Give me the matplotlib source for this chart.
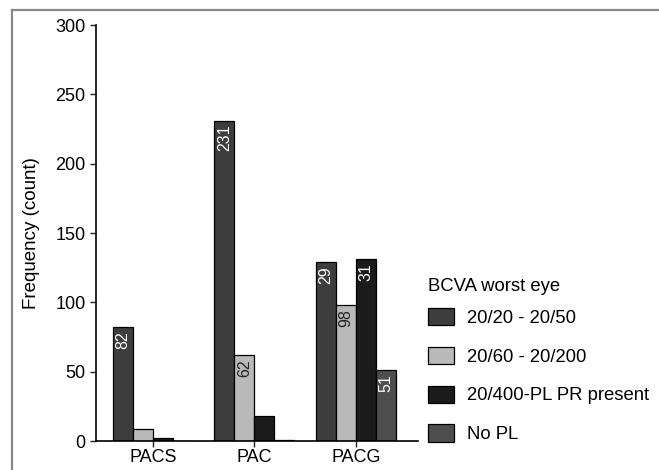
import numpy as np
import matplotlib
matplotlib.use("Agg")
import matplotlib.pyplot as plt
from matplotlib.patches import Patch
from matplotlib.lines import Line2D
from matplotlib.transforms import ScaledTranslation

plt.rcParams['font.family'] = ['Liberation Sans', 'DejaVu Sans']

groups = ['PACS', 'PAC', 'PACG']
series = ['20/20 - 20/50', '20/60 - 20/200', '20/400-PL PR present', 'No PL']
colors = ['#3d3d3d', '#b9b9b9', '#1b1b1b', '#4d4d4d']
text_colors = ['white', '#222222', 'white', 'white']
counts = [
    [82, 231, 129],
    [9, 62, 98],
    [2, 18, 131],
    [0, 1, 51],
]
# labels as printed on the bars
bar_text = [
    ['82', '231', '29'],
    ['', '62', '98'],
    ['', '', '31'],
    ['', '', '51'],
]
label_shift_px = [-16, 0, -9]

fig = plt.figure(figsize=(6.59, 4.70), dpi=100)
ax = fig.add_axes([0.1457, 0.0617, 0.634 - 0.1457, 0.9468 - 0.0617])

x = np.arange(len(groups))
w = 0.197
for i in range(len(series)):
    xs = x + (i - 1.5) * w
    bars = ax.bar(xs, counts[i], width=w, color=colors[i],
                  edgecolor='black', linewidth=0.9, label=series[i])
    for b, t in zip(bars, bar_text[i]):
        if t:
            ax.annotate(t, (b.get_x() + b.get_width() / 2, b.get_height()),
                        xytext=(0, -3), textcoords='offset points',
                        rotation=90, ha='center', va='top',
                        color=text_colors[i], fontsize=11.5)

ax.set_ylim(0, 300)
ax.set_xlim(-0.56, 2.61)
ax.set_yticks([0, 50, 100, 150, 200, 250, 300])
ax.set_xticks(x)
ax.set_xticklabels(groups)
for lab, dx in zip(ax.get_xticklabels(), label_shift_px):
    lab.set_transform(lab.get_transform() + ScaledTranslation(dx / 100, 0, fig.dpi_scale_trans))
ax.tick_params(axis='both', labelsize=13, length=4, width=1, color='#222222')
ax.tick_params(axis='x', pad=2)
ax.spines['top'].set_visible(False)
ax.spines['right'].set_visible(False)
ax.spines['left'].set_linewidth(1.2)
ax.spines['bottom'].set_linewidth(1.2)
ax.set_ylabel('Frequency (count)', fontsize=13.5, labelpad=11)

handles = [Patch(facecolor=c, edgecolor='black', linewidth=0.9) for c in colors]
leg = ax.legend(handles, series, title='BCVA worst eye', loc='upper left',
                bbox_to_anchor=(428 / 659, 1 - 278 / 470), bbox_transform=fig.transFigure,
                frameon=False, fontsize=13.3, title_fontsize=13.3, borderpad=0,
                handlelength=1.4, handleheight=1.05, handletextpad=0.7,
                labelspacing=1.08, borderaxespad=0)
leg._legend_box.align = 'left'
leg._legend_box.sep = 9.3  # tighter gap under the title

# outer frame (top and left edges only)
fig.add_artist(Line2D([12 / 659, 1.0], [1 - 10 / 470, 1 - 10 / 470],
                      transform=fig.transFigure, color='#888888', linewidth=1.6))
fig.add_artist(Line2D([12 / 659, 12 / 659], [0, 1 - 10 / 470],
                      transform=fig.transFigure, color='#888888', linewidth=1.6))

fig.savefig('out.png', dpi=100)
